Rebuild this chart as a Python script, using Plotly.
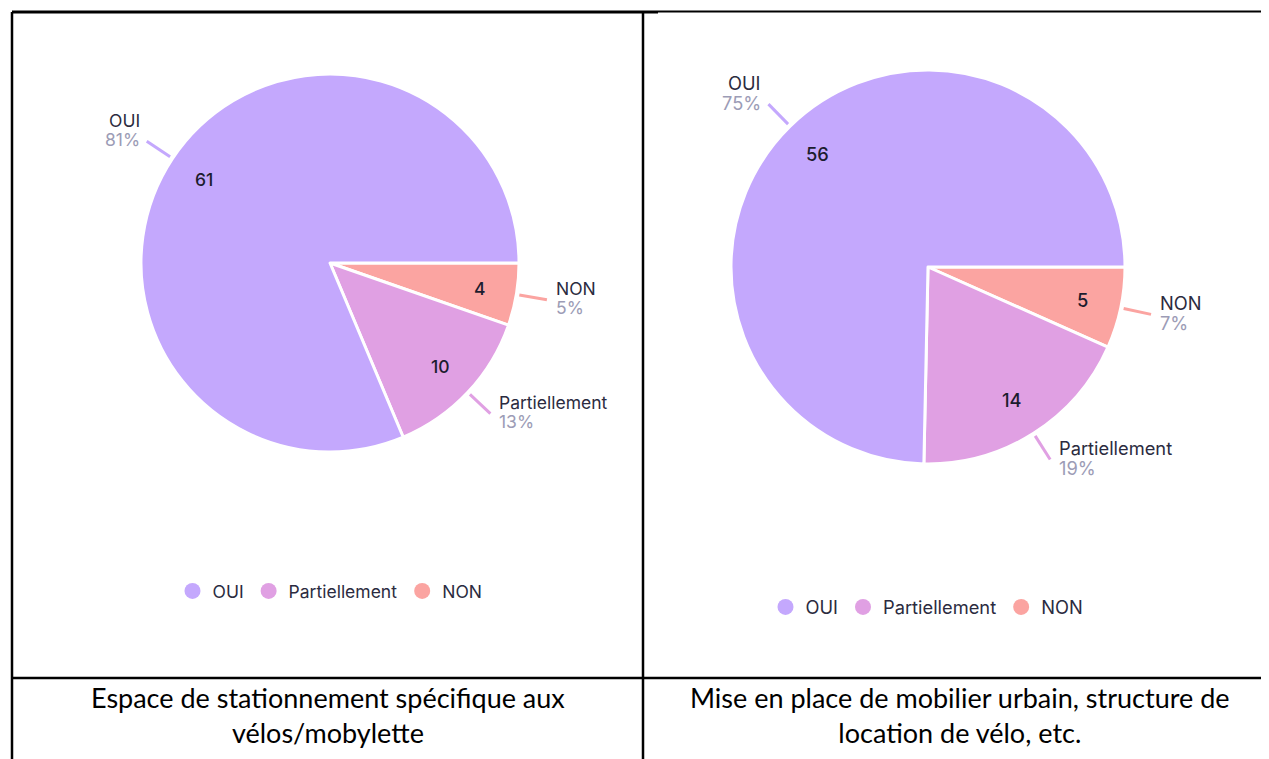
import math

import plotly.graph_objects as go

# la page ajoute une marge de 8 px autour de la figure
OFF = 8
W, H = 1269 - OFF, 759 - OFF

CATEGORIES = ["OUI", "Partiellement", "NON"]
VALUES_LEFT = [61, 10, 4]
VALUES_RIGHT = [56, 14, 5]
CAPTION_LEFT = "Espace de stationnement spécifique aux<br>vélos/mobylette"
CAPTION_RIGHT = "Mise en place de mobilier urbain, structure de<br>location de vélo, etc."

COLORS = {
    "OUI": "#C4A8FD",
    "Partiellement": "#E0A0E3",
    "NON": "#FBA4A1",
}
LABEL_COLOR = "#2B2B40"
PCT_COLOR = "#9C9CB6"
FONT = "Inter, Roboto, sans-serif"
CAPTION_FONT = "Lato, Liberation Sans, sans-serif"


def px(x):
    return (x - OFF) / W


def py(y):
    return 1 - (y - OFF) / H


def text_at(x, y, text, size, color, xanchor="center", weight=None):
    font = dict(size=size, color=color, family=FONT)
    if weight:
        font["weight"] = weight
    return dict(
        xref="paper", yref="paper", x=px(x), y=py(y),
        xanchor=xanchor, yanchor="middle", borderpad=0,
        text=text, showarrow=False, font=font,
    )


# valeurs, centre x/y et rayon (px), legende, position legende, taille texte
PIES = [
    (VALUES_LEFT, 330, 263, 189, "legend", 330, 591, 17.5),
    (VALUES_RIGHT, 928, 267, 197, "legend2", 927, 607, 18.3),
]

fig = go.Figure()
annotations = []
shapes = []
legends = {}

for values, cx, cy, r, leg, lx, ly, fs in PIES:
    # sens horaire depuis 3 h : NON, Partiellement, OUI
    order = list(reversed(CATEGORIES))
    vals = [values[CATEGORIES.index(c)] for c in order]
    fig.add_trace(
        go.Pie(
            labels=order,
            values=vals,
            sort=False,
            direction="clockwise",
            rotation=90,
            textinfo="none",
            showlegend=False,
            marker=dict(
                colors=[COLORS[c] for c in order],
                line=dict(color="white", width=3),
            ),
            domain=dict(x=[px(cx - r), px(cx + r)], y=[py(cy + r), py(cy - r)]),
            hoverinfo="label+value+percent",
        )
    )
    total = sum(vals)
    sp = fs * 1.1  # interligne libellé / pourcentage
    start = 0.0
    for cat, v in zip(order, vals):
        span = v / total * 360
        mid = math.radians(start - span / 2)
        start -= span
        c, s = math.cos(mid), math.sin(mid)
        # valeur dans la part
        annotations.append(text_at(
            cx + 0.8 * r * c, cy - 0.8 * r * s, str(v),
            fs, "#1C1C2E", weight=500,
        ))
        # trait de rappel
        x0, y0 = cx + (r + 3) * c, cy - (r + 3) * s
        x1, y1 = cx + (r + 31) * c, cy - (r + 31) * s
        shapes.append(dict(
            type="line", xref="paper", yref="paper",
            x0=px(x0), y0=py(y0), x1=px(x1), y1=py(y1),
            line=dict(color=COLORS[cat], width=3),
        ))
        pct = f"{round(v / total * 100)}%"
        if c >= 0:
            tx, anchor = x1 + 8, "left"
        else:
            tx, anchor = x1 - 6, "right"
        yc = y1 - 11.5 if s > 0.3 else y1 - 1.5
        annotations.append(text_at(tx, yc - sp / 2, cat, fs, LABEL_COLOR, anchor))
        annotations.append(text_at(tx, yc + sp / 2, pct, fs, PCT_COLOR, anchor))

    for cat in CATEGORIES:
        fig.add_trace(
            go.Scatter(
                x=[None], y=[None], mode="markers", name=cat, legend=leg,
                marker=dict(size=19, color=COLORS[cat], symbol="circle"),
            )
        )
    legends[leg] = dict(
        x=px(lx), y=py(ly),
        orientation="h", xanchor="center", yanchor="middle",
        font=dict(size=fs, color=LABEL_COLOR, family=FONT),
        bgcolor="rgba(0,0,0,0)", itemclick=False,
    )

annotations += [
    dict(xref="paper", yref="paper", x=px(328), y=py(715),
         xanchor="center", yanchor="middle",
         text=CAPTION_LEFT, showarrow=False,
         font=dict(size=27, color="black", family=CAPTION_FONT)),
    dict(xref="paper", yref="paper", x=px(960), y=py(715),
         xanchor="center", yanchor="middle",
         text=CAPTION_RIGHT, showarrow=False,
         font=dict(size=27, color="black", family=CAPTION_FONT)),
]

# bordures du tableau
for x0, y0, x1, y1, w in [
    (12, 12, 12, 759, 2.5),
    (12, 12, 658, 12, 3),
    (658, 11.5, 1269, 11.5, 2),
    (643, 12, 643, 759, 2.5),
    (12, 678, 1269, 678, 2.5),
]:
    shapes.append(dict(
        type="line", xref="paper", yref="paper",
        x0=px(x0), y0=py(y0), x1=px(x1), y1=py(y1),
        line=dict(color="black", width=w),
    ))

fig.update_layout(
    width=W, height=H,
    margin=dict(l=0, r=0, t=0, b=0),
    paper_bgcolor="white", plot_bgcolor="white",
    xaxis=dict(visible=False), yaxis=dict(visible=False),
    annotations=annotations,
    shapes=shapes,
    **legends,
)

fig.write_html("out.html")
